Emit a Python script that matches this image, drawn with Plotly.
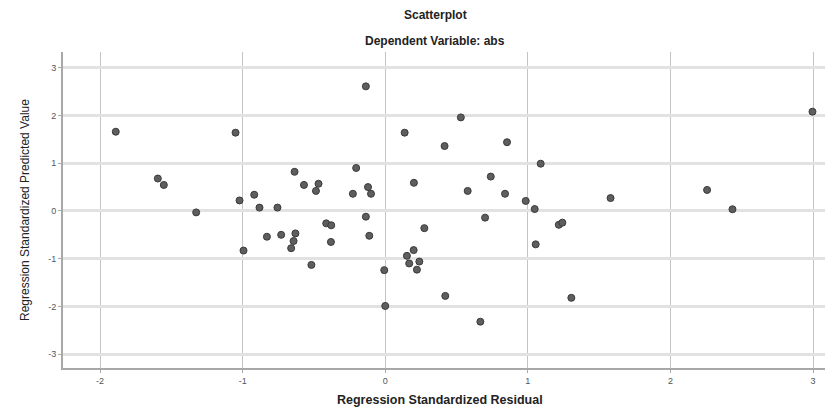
import plotly.graph_objects as go

residual = [-1.89, -1.05, -1.595, -1.553, -1.326, -1.022, -0.919, -0.882, -0.756, -0.636,
            -0.570, -0.468, -0.486, -0.83, -0.73, -0.63, -0.643, -0.66, -0.994, -0.518,
            -0.136, 0.53, 0.136, 0.416, 0.854, 1.09, -0.204, 0.74, -0.227, -0.121,
            -0.10, 0.201, 0.578, 0.84, 0.985, 1.048, -0.136, 0.70, -0.414, -0.379,
            -0.381, -0.112, 0.274, 1.055, 1.217, 1.242, 0.199, 0.152, 0.168, 0.239,
            0.222, -0.007, 0.0, 0.421, 0.667, 2.996, 1.58, 2.257, 2.435, 1.305]
predicted = [1.66, 1.64, 0.68, 0.545, -0.03, 0.22, 0.34, 0.07, 0.07, 0.82,
             0.545, 0.57, 0.42, -0.54, -0.50, -0.47, -0.63, -0.78, -0.83, -1.13,
             2.61, 1.96, 1.64, 1.36, 1.44, 0.99, 0.90, 0.72, 0.36, 0.50,
             0.36, 0.59, 0.42, 0.36, 0.21, 0.04, -0.12, -0.14, -0.26, -0.30,
             -0.65, -0.52, -0.36, -0.70, -0.29, -0.245, -0.82, -0.94, -1.10, -1.06,
             -1.23, -1.24, -1.99, -1.78, -2.32, 2.08, 0.27, 0.44, 0.035, -1.82]

x_ticks = [-2, -1, 0, 1, 2, 3]
y_ticks = [-3, -2, -1, 0, 1, 2, 3]

# page body has an 8px margin, so the figure is drawn 8px smaller
W, H = 825, 405
L, R, T, B = 55, 0, 44, 45
PW, PH = W - L - R, H - T - B

def px(xp):
    return (xp - L) / PW

def py(yp):
    return (H - B - yp) / PH

fig = go.Figure()
fig.add_trace(go.Scatter(
    x=residual, y=predicted, mode="markers",
    marker=dict(size=7, color="#5e5e5e", line=dict(color="#3a3a3a", width=1)),
    showlegend=False,
))

fig.update_layout(
    width=W, height=H,
    margin=dict(l=L, r=R, t=T, b=B, autoexpand=False),
    paper_bgcolor="white", plot_bgcolor="white",
    font=dict(family="Liberation Sans, Arial, sans-serif", color="#222"),
)

ann_font = dict(size=12, color="#222")
fig.add_annotation(text="<b>Scatterplot</b>", xref="paper", yref="paper",
                   x=px(427), y=py(7), showarrow=False, font=ann_font,
                   xanchor="center", yanchor="middle")
fig.add_annotation(text="<b>Dependent Variable: abs</b>", xref="paper", yref="paper",
                   x=px(427), y=py(33), showarrow=False, font=ann_font,
                   xanchor="center", yanchor="middle")
fig.add_annotation(text="<b>Regression Standardized Residual</b>", xref="paper", yref="paper",
                   x=px(432), y=py(392), showarrow=False, font=dict(size=12.5, color="#222"),
                   xanchor="center", yanchor="middle")
fig.add_annotation(text="Regression Standardized Predicted Value", xref="paper", yref="paper",
                   x=px(17), y=py(202), showarrow=False, textangle=-90,
                   font=dict(size=12, color="#222"), xanchor="center", yanchor="middle")

fig.update_xaxes(
    range=[-2.26, 3.14], tickvals=x_ticks, ticktext=[str(v) for v in x_ticks],
    showgrid=True, gridcolor="#c4c4c4", gridwidth=1,
    showline=True, linecolor="#a8a8a8", linewidth=2,
    ticks="outside", ticklen=3, tickcolor="#a8a8a8",
    tickfont=dict(size=9, color="#555"), zeroline=False, automargin=False,
)
fig.update_yaxes(
    range=[-3.29, 3.33], tickvals=y_ticks, ticktext=[str(v) for v in y_ticks],
    showgrid=True, gridcolor="#e2e2e2", gridwidth=2.5,
    showline=True, linecolor="#a8a8a8", linewidth=2,
    ticks="outside", ticklen=3, tickcolor="#a8a8a8",
    tickfont=dict(size=9, color="#555"), zeroline=False, automargin=False,
)

fig.write_html("out.html")
